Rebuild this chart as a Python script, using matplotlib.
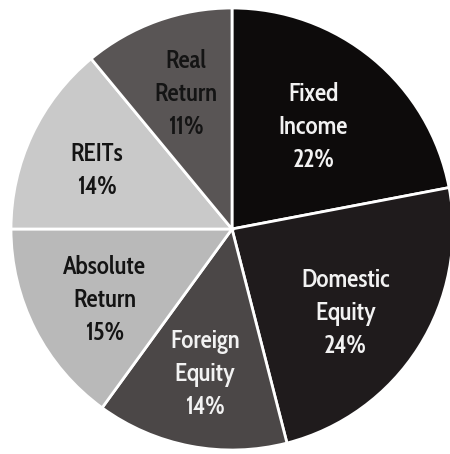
import matplotlib
matplotlib.use("Agg")
import matplotlib.pyplot as plt
import numpy as np

# Portfolio allocation by asset class (percent)
categories = ["Fixed\nIncome", "Domestic\nEquity", "Foreign\nEquity",
              "Absolute\nReturn", "REITs", "Real\nReturn"]
shares = [22, 24, 14, 15, 14, 11]

fill_colors = ["#0d0b0b", "#1f1b1c", "#4b4747", "#b9b9b9", "#c9c9c9", "#595555"]
text_colors = ["#f2f2f2", "#f2f2f2", "#f2f2f2", "#141414", "#141414", "#141414"]
# label placement: fraction of radius and angular nudge (degrees) from wedge middle
label_radius = [0.59, 0.64, 0.67, 0.66, 0.665, 0.645]
label_nudge = [1.0, -4.2, 0.3, 2.2, 1.9, -0.8]

plt.rcParams["font.family"] = ["Cabin Condensed", "DejaVu Sans"]

fig = plt.figure(figsize=(4.5, 4.54), dpi=100)
ax = fig.add_axes([0, 0, 1, 1])

wedges, _ = ax.pie(
    shares,
    colors=fill_colors,
    startangle=90,
    counterclock=False,
    radius=1.0,
    wedgeprops=dict(edgecolor="white", linewidth=2.0),
)

for w, name, val, tc, rr, dn in zip(wedges, categories, shares, text_colors,
                                     label_radius, label_nudge):
    mid = np.deg2rad((w.theta1 + w.theta2) / 2 + dn)
    ax.text(rr * np.cos(mid), rr * np.sin(mid), f"{name}\n{val}%",
            ha="center", va="center", color=tc, fontsize=18,
            fontweight=600, linespacing=1.42)

R = 221.0
ax.set_xlim(-232 / R, (450 - 232) / R)
ax.set_ylim(-(454 - 229) / R, 229 / R)
ax.set_aspect("equal")
ax.axis("off")

fig.savefig("out.png", dpi=100, facecolor="white")
